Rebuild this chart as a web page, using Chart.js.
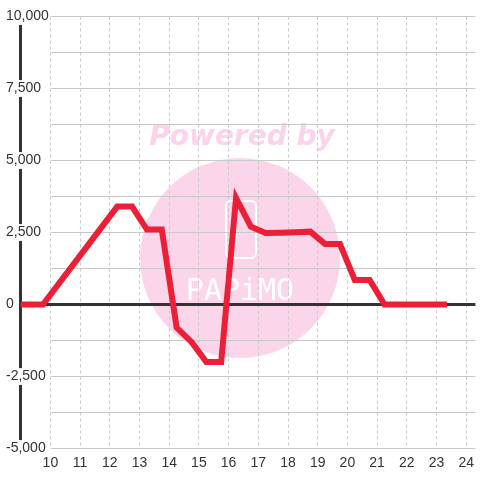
<!DOCTYPE html>
<html>
<head>
<meta charset="utf-8">
<script src="https://cdn.jsdelivr.net/npm/chart.js@4.4.0/dist/chart.umd.min.js"></script>
<style>
  html, body { margin: 0; padding: 0; background: #fff; }
</style>
</head>
<body>
<canvas id="grafico" width="480" height="480"></canvas>
<script>
// datos de la serie (hora del día -> valor)
const horas = [9, 9.75, 12.25, 12.75, 13.25, 13.75, 14.25, 14.75, 15.25, 15.75, 16.25, 16.75, 17.25, 17.75, 18.25, 18.75, 19.25, 19.75, 20.25, 20.75, 21.25, 23.25];
const valores = [0, 0, 3400, 3400, 2600, 2600, -800, -1300, -2000, -2000, 3700, 2700, 2480, 2490, 2510, 2530, 2100, 2100, 850, 850, 0, 0];

// etiquetas de los ejes
const etiquetasX = [10, 11, 12, 13, 14, 15, 16, 17, 18, 19, 20, 21, 22, 23, 24];
const etiquetasY = [-5000, -2500, 0, 2500, 5000, 7500, 10000];

const fuente = "'Liberation Sans', Arial, sans-serif";

// marca de agua "Powered by"
const marcaAgua = {
  id: "marcaAgua",
  beforeDraw(chart) {
    const ctx = chart.ctx;
    ctx.save();
    ctx.fillStyle = "#fbd5ea";
    ctx.beginPath();
    ctx.arc(240, 258, 100, 0, Math.PI * 2);
    ctx.fill();

    ctx.font = "italic bold 28px 'DejaVu Sans', sans-serif";
    ctx.fillStyle = "#fbd3ea";
    ctx.textAlign = "center";
    ctx.textBaseline = "alphabetic";
    ctx.fillText("Powered by", 242, 145);

    // logo
    ctx.strokeStyle = "#ffffff";
    ctx.lineWidth = 2;
    ctx.beginPath();
    ctx.roundRect(226, 201, 30, 57, 5);
    ctx.stroke();
    ctx.beginPath();
    ctx.moveTo(236, 201);
    ctx.lineTo(236, 246);
    ctx.stroke();

    ctx.font = "30px 'DejaVu Sans Mono', monospace";
    ctx.fillStyle = "#ffffff";
    ctx.fillText("PAPiMO", 240, 300);
    ctx.restore();
  }
};

// rejilla horizontal y linea del cero
const rejilla = {
  id: "rejilla",
  beforeDatasetsDraw(chart) {
    const ctx = chart.ctx;
    const ejeX = chart.scales.x;
    const ejeY = chart.scales.y;
    const area = chart.chartArea;
    const paso = (etiquetasY[1] - etiquetasY[0]) / 2;
    ctx.save();
    ctx.strokeStyle = "#c8c8c8";
    ctx.lineWidth = 1;
    for (let v = etiquetasY[0]; v <= etiquetasY[etiquetasY.length - 1]; v += paso) {
      if (v === 0) continue;
      const py = Math.round(ejeY.getPixelForValue(v) - 0.5) + 0.5;
      ctx.beginPath();
      ctx.moveTo(ejeX.getPixelForValue(etiquetasX[0]) + 1, py);
      ctx.lineTo(area.right, py);
      ctx.stroke();
    }
    const p0 = ejeY.getPixelForValue(0);
    ctx.strokeStyle = "#333333";
    ctx.lineWidth = 3;
    ctx.beginPath();
    ctx.moveTo(area.left, p0);
    ctx.lineTo(area.right, p0);
    ctx.stroke();
    ctx.restore();
  }
};

const config = {
  type: "line",
  data: {
    datasets: [{
      data: horas.map((h, i) => ({ x: h, y: valores[i] })),
      borderColor: "#ed1f36",
      backgroundColor: "#ed1f36",
      borderWidth: 6,
      borderCapStyle: "square",
      borderJoinStyle: "miter",
      pointRadius: 0,
      tension: 0,
      fill: false
    }]
  },
  options: {
    responsive: false,
    animation: false,
    devicePixelRatio: 1,
    layout: { padding: { left: 6, top: 16.5, right: 0, bottom: 0 } },
    plugins: {
      legend: { display: false },
      tooltip: { enabled: false }
    },
    scales: {
      x: {
        type: "linear",
        min: 9,
        max: 24.31,
        afterBuildTicks: (eje) => { eje.ticks = etiquetasX.map(v => ({ value: v })); },
        afterFit: (eje) => { eje.height = 31.5; },
        grid: { display: true, color: "#c8c8c8", lineWidth: 1, drawTicks: false },
        border: { display: false, dash: [3, 3] },
        ticks: {
          padding: 6,
          color: "#333",
          font: { family: fuente, size: 14 },
          maxRotation: 0,
          autoSkip: false
        }
      },
      y: {
        type: "linear",
        min: etiquetasY[0],
        max: etiquetasY[etiquetasY.length - 1],
        afterBuildTicks: (eje) => { eje.ticks = etiquetasY.map(v => ({ value: v })); },
        afterFit: (eje) => { eje.width = 14.7; },
        grid: { display: false, drawTicks: false },
        border: { display: true, color: "#333333", width: 3 },
        ticks: {
          mirror: true,
          padding: -14.7,
          color: "#333",
          font: { family: fuente, size: 14 },
          showLabelBackdrop: true,
          backdropColor: "#ffffff",
          backdropPadding: { top: 0, bottom: 0, left: 1, right: 1 },
          callback: (v) => v.toLocaleString("en-US")
        }
      }
    }
  },
  plugins: [marcaAgua, rejilla]
};

new Chart(document.getElementById("grafico"), config);
</script>
</body>
</html>
